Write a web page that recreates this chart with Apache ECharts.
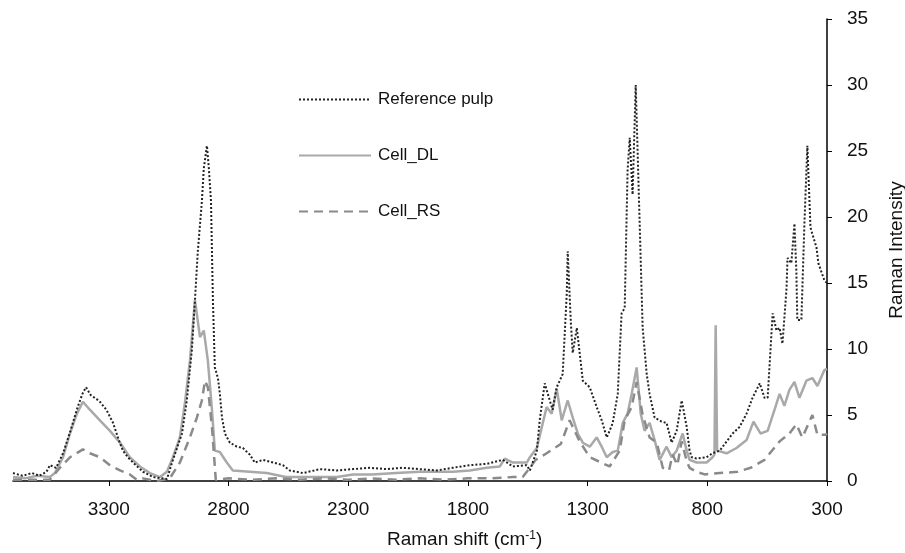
<!DOCTYPE html>
<html>
<head>
<meta charset="utf-8">
<script src="https://cdn.jsdelivr.net/npm/echarts@6/dist/echarts.min.js"></script>
<style>html,body{margin:0;padding:0;background:#fff}#c{width:905px;height:553px}</style>
</head>
<body>
<div id="c"></div>
<script>
// ---- data ----
const xTicks = [300, 800, 1300, 1800, 2300, 2800, 3300];
const seriesNames = ['Reference pulp', 'Cell_DL', 'Cell_RS'];

const refShift = [3700,3660,3620,3590,3560,3546,3520,3491,3460,3430,3410,3395,3375,3350,3337,3310,3282,3260,3241,3220,3199,3157,3115,3057,3032,2994,2974,2953,2940,2928,2911,2903,2890,2882,2873,2869,2865,2861,2857,2844,2836,2827,2815,2794,2765,2740,2711,2690,2656,2614,2573,2544,2489,2418,2347,2280,2210,2139,2072,2001,1930,1863,1792,1721,1654,1612,1554,1541,1512,1500,1479,1458,1446,1429,1404,1387,1383,1370,1362,1345,1337,1320,1291,1262,1241,1220,1208,1195,1174,1158,1145,1133,1124,1112,1099,1082,1070,1053,1041,1020,991,970,949,928,907,886,874,865,845,803,778,748,719,694,665,636,611,581,561,548,527,511,498,486,469,465,449,436,428,424,407,394,382,369,361,344,336,311,300];
const refIntensity = [0.6,0.4,0.6,0.4,0.7,1.2,1.0,2.1,3.8,5.6,6.6,7.1,6.5,6.2,6.0,5.4,4.4,3.2,2.3,1.8,1.4,0.7,0.3,0.15,1.6,3.6,6.1,9.9,13.7,17.4,21.2,23.7,25.4,23.7,21.2,17.4,13.7,11.2,8.6,7.8,6.6,4.8,3.6,2.9,2.6,2.5,2.0,1.4,1.6,1.4,1.2,0.8,0.6,0.9,0.8,0.9,1.0,0.9,1.0,0.9,0.8,1.0,1.2,1.3,1.6,1.1,1.2,0.8,2.3,4.6,7.4,6.1,5.4,7.1,8.1,14.2,17.4,12.0,9.7,11.6,11.6,7.6,7.1,5.6,4.6,3.3,3.8,4.4,6.6,12.7,13.1,23.5,26.0,21.7,30.0,19.2,11.6,8.1,6.6,4.8,4.5,4.4,2.9,3.8,6.1,4.1,2.3,1.8,1.7,1.8,2.1,2.3,3.0,3.6,4.1,5.1,6.3,7.4,6.3,6.3,12.7,11.4,11.6,10.4,14.6,16.9,16.5,19.5,15.9,12.2,12.2,19.7,25.4,19.2,18.7,17.7,16.5,15.2,15.0];

const dlShift = [3700,3650,3600,3546,3525,3491,3462,3433,3408,3379,3337,3295,3253,3212,3170,3128,3086,3057,3032,3003,2982,2961,2940,2919,2903,2886,2869,2857,2836,2807,2782,2711,2640,2560,2480,2400,2347,2280,2200,2100,2001,1863,1792,1721,1667,1646,1612,1554,1541,1512,1491,1471,1450,1429,1408,1383,1362,1341,1320,1291,1262,1241,1220,1195,1174,1153,1133,1116,1095,1078,1062,1041,1020,999,970,949,928,903,886,874,845,803,778,770,765,759,753,719,678,636,607,578,548,519,498,478,457,436,415,386,361,340,311,300];
const dlIntensity = [0.3,0.2,0.4,0.3,0.6,1.8,3.6,5.1,6.0,5.4,4.6,3.8,2.9,1.8,1.1,0.6,0.3,0.7,1.8,3.3,5.9,9.1,13.7,10.9,11.4,9.1,5.4,2.3,2.2,1.4,0.8,0.7,0.6,0.3,0.3,0.3,0.3,0.5,0.5,0.6,0.7,0.7,0.8,1.0,1.1,1.7,1.4,1.4,1.8,2.5,4.1,5.6,5.1,7.0,4.6,6.1,4.8,3.6,2.9,2.6,3.3,2.6,1.8,2.2,2.3,4.4,5.1,6.6,8.6,5.1,3.8,4.4,3.1,1.6,2.6,1.8,2.3,3.6,2.3,1.6,1.4,1.4,1.8,2.0,11.8,2.3,2.3,2.1,2.5,3.1,4.5,3.6,3.8,5.4,6.6,5.7,6.9,7.5,6.3,7.6,7.8,7.2,8.4,8.5];

const rsShift = [3700,3600,3546,3504,3462,3408,3379,3337,3295,3253,3212,3183,3157,3100,3045,3003,2961,2932,2911,2898,2886,2869,2853,2800,2700,2600,2500,2400,2300,2200,2100,2000,1900,1800,1700,1612,1571,1541,1517,1471,1412,1375,1333,1291,1208,1166,1145,1116,1095,1070,1041,1011,986,960,945,925,907,886,874,845,811,748,673,619,561,498,457,428,403,361,340,306,300];
const rsIntensity = [0.1,0.1,0.1,1.0,1.8,2.4,2.1,1.8,1.2,0.8,0.5,0.1,0.2,0.0,0.2,1.4,3.3,4.8,6.1,7.6,7.1,4.1,0.1,0.2,0.1,0.2,0.1,0.2,0.1,0.2,0.1,0.2,0.1,0.2,0.2,0.3,0.3,1.0,1.6,2.1,2.8,4.6,3.0,1.8,1.1,2.3,4.6,5.6,7.5,5.0,3.3,2.9,1.0,0.8,2.0,1.2,3.0,1.5,1.0,0.7,0.5,0.6,0.7,1.0,1.6,3.0,3.6,4.3,3.3,5.0,3.5,3.5,3.6];

const yTicks = {min: 0, max: 35, step: 5};

function pairs(xs, ys) { return xs.map((x, i) => [x, ys[i]]); }

const chart = echarts.init(document.getElementById('c'), null, {renderer: 'canvas'});
const FONT = 'Liberation Sans, Arial, sans-serif';

chart.setOption({
  animation: false,
  backgroundColor: '#ffffff',
  grid: {left: 13, right: 78, top: 19, bottom: 72, containLabel: false, outerBoundsMode: 'none'},
  legend: {
    orient: 'vertical',
    left: 298, top: 91, padding: 0,
    itemWidth: 72, itemHeight: 14, itemGap: 39,
    data: seriesNames,
    itemStyle: {opacity: 0},
    textStyle: {fontFamily: FONT, fontSize: 17, color: '#111', padding: [0,0,0,2]}
  },
  xAxis: {
    type: 'value',
    inverse: true,
    min: 300, max: 3700,
    axisLine: {show: true, onZero: false, lineStyle: {color: '#000', width: 1.5}},
    axisTick: {show: true, inside: false, length: 5, lineStyle: {color: '#000'}, customValues: xTicks},
    axisLabel: {fontFamily: FONT, fontSize: 19, color: '#111', margin: 19, customValues: xTicks,
                formatter: v => String(v)},
    splitLine: {show: false}
  },
  yAxis: {
    type: 'value',
    position: 'right',
    min: yTicks.min, max: yTicks.max, interval: yTicks.step,
    name: 'Raman Intensity',
    nameLocation: 'middle',
    nameRotate: 90,
    nameGap: 60,
    nameTextStyle: {fontFamily: FONT, fontSize: 19, color: '#111'},
    axisLine: {show: true, lineStyle: {color: '#000', width: 1.5}},
    axisTick: {show: true, inside: false, length: 5, lineStyle: {color: '#000'}},
    axisLabel: {fontFamily: FONT, fontSize: 19, color: '#111', margin: 20},
    splitLine: {show: false}
  },
  graphic: [{
    type: 'text', left: 387, top: 530,
    style: {
      text: '{n|Raman shift (cm}{s|-1}{n|)}',
      rich: {
        n: {fontFamily: FONT, fontSize: 19, fill: '#111'},
        s: {fontFamily: FONT, fontSize: 12, fill: '#111', verticalAlign: 'top', padding: [0,0,8,0]}
      }
    }
  }],
  series: [
    {
      name: 'Cell_DL', type: 'line', symbol: 'none', z: 2,
      data: pairs(dlShift, dlIntensity),
      lineStyle: {color: '#a9a9a9', width: 2.5},
      itemStyle: {color: '#a9a9a9'}
    },
    {
      name: 'Cell_RS', type: 'line', symbol: 'none', z: 3,
      data: pairs(rsShift, rsIntensity),
      lineStyle: {color: '#8a8a8a', width: 2.5, type: [9, 6]},
      itemStyle: {color: '#8a8a8a'}
    },
    {
      name: 'Reference pulp', type: 'line', symbol: 'none', z: 4,
      data: pairs(refShift, refIntensity),
      lineStyle: {color: '#222', width: 2, type: [2, 2]},
      itemStyle: {color: '#222'}
    }
  ]
});
</script>
</body>
</html>
